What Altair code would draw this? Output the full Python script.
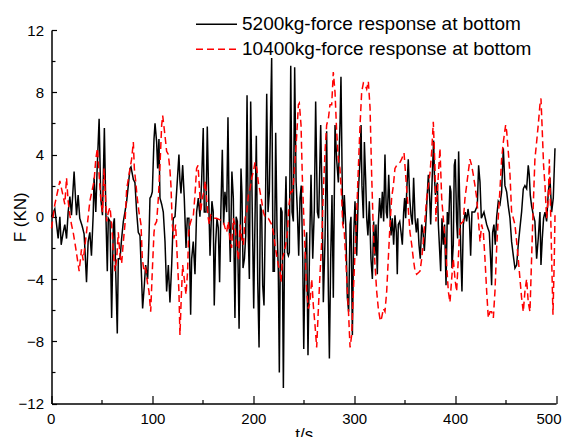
import altair as alt
import pandas as pd

SERIES = ["5200kg-force response at bottom", "10400kg-force response at bottom"]
COLORS = ["#000000", "#ff0000"]
DASHES = [[1, 0], [7, 4]]

t_black = [0, 3.3, 6.6, 8.3, 9.6, 11.6, 13.2, 14.9, 16.5, 18.2, 19.8, 22.4, 23.8, 24.8, 26.4, 28, 30.4, 32.3, 33.3, 34.7,
           36.3, 38, 39.6, 41.3, 42.2, 43.9, 45.2, 47.2, 48.8, 50.5, 52.4, 54, 55.3, 56.3, 58, 59.6, 61.3, 62.3, 65.2, 66.2,
           67.9, 69.5, 71.2, 72.8, 74.5, 76.1, 77.8, 78.8, 81.1, 82.7, 84.4, 86, 87.7, 89.3, 90.3, 92, 93.3, 95.3, 96.6, 97.6,
           98.6, 99.9, 101.6, 102.6, 104.2, 105.2, 106.5, 107.5, 109.2, 110.8, 112.5, 114.1, 115.8, 117.4, 119.1, 120.7, 122.4, 124, 126.3, 127.3,
           128.3, 130, 131.6, 133.3, 134.6, 136.2, 137.9, 138.9, 140.5, 142.2, 143.8, 145.5, 147.1, 148.8, 150.4, 151.4, 153.1, 154.4, 156.1, 157.1,
           159, 160.3, 161.3, 162.6, 164, 165.3, 166.6, 167.9, 169.3, 170.6, 171.9, 173.6, 174.9, 176.2, 177.2, 178.8, 180.2, 181.8, 183, 184.2,
           185.9, 187.8, 188.8, 189.8, 191.2, 192.5, 193.8, 195.1, 196.1, 197.4, 198.7, 200.4, 201.7, 203, 204.4, 205.7, 207, 208.3, 209.3, 210.6,
           212, 213.3, 214.6, 215.9, 217.3, 218.2, 219.6, 220.9, 222.2, 223.5, 224.8, 225.8, 227.2, 228.5, 229.8, 231.1, 232.4, 233.8, 234.8, 235.7,
           237.1, 238.4, 239.7, 241, 242.4, 243.7, 245, 246.3, 247.5, 249, 250, 251.3, 252.9, 254.2, 255.6, 257.2, 258.9, 260.5, 261.8, 263.5,
           264.8, 266.8, 268.4, 269.4, 271.1, 272.7, 274.4, 275.4, 276.7, 278, 279.3, 281, 282.6, 284.3, 285.9, 286.9, 288.3, 289.2, 290.2, 291.6,
           293.2, 294.5, 295.9, 296.8, 298.2, 299.5, 300.8, 302.5, 304.1, 305.8, 306.8, 307.7, 309.1, 310.1, 311.4, 312.4, 313.6, 315, 316.6, 318,
           319.3, 320.6, 321.6, 322.9, 323.9, 325.2, 326.6, 327.9, 329.2, 330.5, 331.8, 332.8, 334.2, 335.5, 336.5, 337.8, 339.1, 340.4, 341.8, 342.7,
           343.7, 345.1, 346.4, 347.7, 349, 350, 351, 352.3, 353.6, 355, 356.3, 357.6, 358.9, 360.3, 361.6, 362.9, 364.2, 365.5, 366.9, 368.2,
           369.5, 370.8, 372.2, 373.5, 374.8, 375.8, 377.3, 378.7, 379.6, 380.5, 382.4, 383.4, 384.4, 385.7, 387, 388.3, 389.6, 391, 392.3, 393.6,
           394.9, 395.9, 396.9, 398.2, 399.2, 400.2, 401.5, 402.5, 403.5, 404.8, 405.8, 406.8, 408.1, 410.1, 411.4, 412.8, 414.1, 415.4, 416.7, 419.4,
           422, 423.3, 424.7, 426, 428.6, 431.3, 433.9, 435.2, 436.2, 437.2, 438.5, 439.8, 441.2, 442.8, 444.5, 446.1, 447.8, 449.4, 451.1, 452.7,
           454.4, 456, 457.7, 459.3, 461, 462.6, 464.3, 465.9, 467.6, 469.2, 470.9, 472.5, 473.5, 474.5, 475.8, 477.5, 479.1, 480.8, 482.4, 484.1,
           485.1, 486.4, 487.7, 489.1, 490.7, 492.4, 494, 495.7, 497.3, 499]
f_black = [0, 0.5, -1.4, 0, -1.8, -1.0, -0.5, -1.4, 0.3, 1.3, 0.1, 2.9, 1.2, 0.1, 1.4, -0.1, -0.6, -1.1, -2.3, -4.2,
           -1.6, -1.0, -2.5, 0.1, 2.5, 0.3, 3.0, 6.3, 1.2, 0.1, 5.7, -0.1, -3.5, -0.1, -0.3, -6.5, -0.5, -0.1, -7.5, -2.7,
           -2.7, -1.4, -0.3, 0.3, 1.0, 2.0, 3.1, 3.2, 2.4, 2.2, 0.3, -1.0, -1.2, -4.0, -5.9, -4.4, -3.1, -4.0, -1.4, 1.2,
           1.3, 1.6, 5.0, 6.0, 4.8, 3.1, 5.0, 1.2, 0.8, 0.3, -1.6, -4.8, -3.1, -5.5, -3.1, -0.1, 0.0, 1.6, 4.0, 2.3,
           1.5, 3.3, 1.2, -2.0, -0.1, -0.1, -6.3, -2.7, -1.6, -3.7, 0.3, 1.2, 0.0, 2.3, 5.7, 0.3, 0.3, 5.8, 0.3, -2.5,
           1.0, 0.3, -5.7, -1.8, -0.1, -0.7, -4.2, 0.5, 4.3, -0.5, 1.6, 0.3, 6.4, -0.5, -2.9, 2.9, 1.2, -6.5, 0.0, -0.3,
           -7.2, 3.1, 1.4, -3.3, -2.7, -1.2, 7.8, -1.4, -4.0, 7.4, 1.6, -5.9, -0.1, 5.2, -4.2, -8.4, 0.8, 0.3, -4.4, -5.7,
           0.3, 7.9, 0.3, 1.6, 7.0, 10.2, -3.5, -3.5, 5.4, -0.7, -3.5, -10.0, 0.6, 0.3, -11.0, -1.0, 2.6, -2.3, -2.5, -2.3,
           9.7, 0.3, -0.3, 9.6, 2.3, 0.3, -2.5, 1.2, 2.0, -2.7, -8.5, -2.7, -1.0, -8.9, -2.7, 2.7, -2.7, 0.5, 7.4, 0.3,
           -0.1, 5.9, 0.3, -5.5, -1.4, 5.5, -4.8, -9.1, -2.7, 1.4, -5.2, 5.9, 3.7, 2.2, 5.9, 9.0, 1.2, -0.5, 1.4, -0.5,
           -5.2, -6.1, -0.5, 0.0, -7.6, -1.2, 1.0, -2.5, 1.6, 3.7, 5.9, 2.0, -0.1, 4.8, 2.3, -0.1, -1.2, 1.0, -2.7, -4.0,
           -0.3, -2.5, -0.5, -3.7, -0.5, 1.2, -0.1, 1.6, -0.3, 4.0, 0.3, -0.1, 2.7, 0.3, -1.2, -0.1, -1.8, 0.1, -1.0, -3.7,
           -0.5, -0.3, -1.0, -1.8, 0.3, 1.2, -0.1, 2.0, 3.7, 1.2, 0.1, -0.5, 2.5, -0.1, -1.0, -0.1, -1.8, -2.7, -0.5, -1.0,
           -2.2, -0.7, 1.2, 2.7, 1.2, -0.5, 2.5, 4.9, 2.5, 1.4, 2.2, -0.5, -1.8, -3.5, -0.1, -1.8, -0.5, -4.4, 0.3, -0.5,
           2.0, 1.6, -3.3, -1.8, 3.3, 3.7, -0.3, -1.4, 4.2, 0.3, -2.7, -4.8, -0.5, 0.3, -0.3, 0.5, -0.1, -2.5, 0.3, 0.3,
           0.7, 3.3, 2.2, -0.1, 0.3, -0.5, -1.0, -2.7, -4.4, -1.0, -0.5, -1.8, 0.0, 1.0, 0.8, 1.6, 4.4, 2.0, 1.6, 0.7,
           -0.1, -1.6, -2.5, -3.3, -3.1, -1.8, -0.7, 0.3, 1.8, 2.0, 1.8, 3.3, 2.7, 1.4, 0.7, 0.1, -0.3, -2.7, -1.4, 0.3,
           -3.1, -1.4, -0.1, 0.3, -0.3, 1.6, 2.5, 0.3, 1.2, 4.4]

t_red = [0, 3.3, 8.3, 11.6, 13.2, 14.9, 16.5, 18.2, 19.8, 21.5, 24, 27.4, 29.7, 31.4, 34.7, 38, 42.2, 43.9, 45.5, 47.2,
         48.8, 50.5, 52.1, 53.3, 54.7, 56.3, 58, 59.6, 61.3, 62.9, 64.6, 66.2, 67.9, 69.5, 71.2, 72.8, 74.5, 76.1, 77.8, 79.4,
         81.1, 82.1, 83.4, 85, 86.7, 88.7, 90, 91.7, 93.3, 95, 96.6, 98.3, 99.9, 101.6, 102.6, 104.2, 105.9, 107.5, 109.2, 110.2,
         112.5, 114.1, 115.8, 117.4, 118.4, 119.7, 121.4, 123, 124.7, 126.3, 127.3, 128.6, 130, 131.6, 133.3, 134.9, 135.9, 137.2, 138.9, 140.5,
         142.2, 143.8, 145.2, 146.5, 147.8, 149.4, 151.1, 152.4, 153.7, 155.4, 156.4, 157.7, 160.3, 163.6, 167, 170.3, 171.9, 173.6, 175.2, 176.9,
         178.5, 180.2, 181.8, 183.5, 185.2, 186.9, 188.5, 190.2, 191.8, 193.5, 195.1, 196.8, 198.4, 200.1, 201.7, 203.4, 205, 206.7, 208.3, 210,
         211.6, 214.9, 218.2, 219.9, 221.5, 223.2, 224.8, 226.5, 227.5, 228.8, 230.5, 232.1, 233.8, 235.4, 237.1, 238.7, 240, 241.4, 243, 244.7,
         245.6, 247.3, 248.6, 250.3, 251.6, 252.9, 254.6, 256.2, 257.9, 259.5, 261.2, 262.8, 264.5, 266.1, 267.8, 269.4, 271.1, 272.7, 274.4, 276,
         277.7, 279.3, 281, 282.6, 284.3, 285.9, 287.6, 288.6, 290.2, 291.6, 292.6, 294.2, 295.9, 297.5, 299.2, 300.8, 302.5, 304.1, 305.8, 307.4,
         309.1, 310.7, 312.4, 314, 315.7, 317.3, 319, 320.6, 322.3, 323.9, 325.9, 327.2, 328.9, 330.5, 332.2, 333.8, 335.5, 337.1, 338.8, 340.4,
         342.1, 345.4, 347, 349.4, 350.3, 352, 353.6, 355.3, 357, 358.6, 360.3, 361.9, 365.2, 366.9, 368.5, 370.2, 371.8, 373.5, 375.1, 376.8,
         378.4, 380.1, 381, 382.4, 385, 386.7, 388.3, 390, 391.6, 393.3, 394.9, 396.6, 398.2, 399.9, 401.5, 403.2, 404.8, 408.1, 409.8, 411.4,
         413.1, 414.7, 416.4, 418, 419.7, 421.4, 423, 424.7, 426.3, 428, 429.6, 431.3, 432.9, 434.6, 436.2, 437.9, 439.5, 441.2, 442.8, 444.5,
         446.1, 447.8, 450.1, 451.1, 452.7, 454.4, 456, 457.7, 459.3, 461, 462.6, 464.3, 465.9, 467.6, 469.2, 470.9, 472.5, 474.2, 475.8, 477.5,
         479.1, 480.8, 482.4, 484.1, 485.1, 486.4, 487.7, 489.1, 490.7, 492.4, 493.4, 494.7, 495.7, 497, 498.3, 499]
f_red = [-0.75, 0.8, 2.3, 1.3, 0.8, 2.5, 1.0, 0.1, -0.5, -1.0, -2.0, -3.5, -2.1, -2.8, -1.0, 1.0, 2.3, 3.7, 4.4, 2.7,
         1.2, 0.3, 3.1, 1.5, -0.3, 0.3, 0.6, -0.5, -2.2, -3.5, -2.7, -1.0, -2.5, -3.0, -1.6, -0.5, 1.8, 2.4, 3.1, 3.7,
         4.8, 3.1, 2.3, 1.2, 0.3, -0.5, -2.7, -3.5, -3.3, -4.2, -4.8, -6.1, -3.5, -1.0, -0.5, -0.3, 1.2, 3.3, 5.9, 6.5,
         5.2, 4.2, 4.0, 3.0, 2.0, -0.5, -1.4, -0.5, -2.7, -4.8, -7.6, -5.2, -3.1, -4.0, -5.0, -3.5, -1.0, -0.5, -0.1, 0.0,
         1.4, 3.1, 3.3, 2.0, 0.3, 1.2, 1.6, 2.3, 1.2, -0.1, -0.5, 0.1, -0.1, -0.1, -0.2, -0.3, -0.7, -1.0, -0.3, -1.4,
         -2.0, -0.1, -0.5, -1.8, -2.8, -0.5, -1.4, -1.8, -0.1, 0.3, 1.4, 1.8, 2.5, 2.9, 3.5, 3.1, 2.2, 1.6, 1.0, 0.3,
         0.0, -0.1, -0.5, -1.0, -1.8, -2.5, -3.1, -3.5, -4.2, -2.7, -2.3, -1.8, -1.0, 0.8, 1.6, 1.6, 2.3, 3.7, 5.2, 7.2,
         7.3, 5.9, 2.5, -0.5, -2.7, -4.8, -5.9, -5.5, -4.0, -5.7, -7.0, -8.4, -5.9, -3.7, -1.6, 1.6, 4.2, 5.9, 6.3, 7.2,
         7.2, 9.3, 8.0, 5.5, 3.7, 3.1, 1.2, -0.5, -1.0, -2.7, -4.0, -5.9, -8.4, -7.6, -4.8, -2.3, 0.3, 3.1, 5.9, 8.0,
         8.6, 8.5, 8.2, 8.7, 7.0, 2.7, -1.0, -3.1, -4.8, -5.9, -6.7, -6.5, -5.9, -6.1, -4.8, -2.7, -0.5, 1.2, 2.0, 3.1,
         3.3, 3.5, 3.7, 4.1, 3.3, 1.8, 0.5, -1.0, -1.8, -2.7, -3.5, -3.7, -3.5, -2.7, -1.6, -0.1, 1.2, 2.0, 2.8, 4.2,
         6.1, 3.1, -0.3, 1.6, 4.4, 1.2, -0.1, -1.4, -3.1, -4.8, -5.5, -4.0, -2.7, -4.0, -4.8, -2.7, -0.5, -0.3, 1.2, 2.0,
         2.9, 3.7, 3.3, 2.7, 2.0, 1.2, -0.1, -1.6, -0.5, -1.0, -2.7, -4.8, -6.5, -6.1, -6.1, -6.5, -4.8, -2.0, 0.0, 1.8,
         3.7, 4.8, 5.9, 5.5, 4.2, 2.7, 0.3, -0.1, -0.5, -1.6, -2.7, -4.0, -5.2, -6.1, -4.8, -4.0, -5.5, -6.1, -2.7, 0.8,
         3.7, 4.8, 5.9, 7.2, 7.6, 5.5, 3.3, 2.0, -0.1, 1.2, 3.7, 0.3, -2.7, -6.3, -2.7, 0.1]

x_major = [0, 100, 200, 300, 400, 500]
x_minor = [50, 150, 250, 350, 450]
y_major = [-12, -8, -4, 0, 4, 8, 12]
y_minor = [-10, -6, -2, 2, 6, 10]

FONT = "Liberation Sans"
W, H = 504.5, 373.5

df = pd.concat([
    pd.DataFrame({"t": t_black, "F": f_black, "series": SERIES[0]}),
    pd.DataFrame({"t": t_red, "F": f_red, "series": SERIES[1]}),
], ignore_index=True)

xscale = alt.Scale(domain=[0, 500], nice=False, zero=False)
yscale = alt.Scale(domain=[-12, 12], nice=False, zero=False)

leg = alt.Legend(
    title=None, orient="none", legendX=143.5, legendY=-18,
    symbolType="stroke", symbolSize=1681, symbolStrokeWidth=1.5,
    labelFontSize=19, labelFont=FONT, labelColor="black", labelOffset=4,
    clipHeight=24.5, rowPadding=0, padding=0, labelLimit=400,
)

lines = alt.Chart(df).mark_line(strokeWidth=1.5).encode(
    x=alt.X("t:Q", scale=xscale, axis=alt.Axis(
        values=x_major, format="d", tickSize=0, labelPadding=8, labelFontSize=15, labelFont=FONT,
        labelColor="black", labelFlush=True, labelFlushOffset=5, labelOverlap=False,
        domainColor="black", domainWidth=1.5,
        grid=False, title="t/s", titleFont=FONT, titleFontSize=17, titleFontWeight="normal",
        titleColor="black", titleY=36, titleBaseline="alphabetic")),
    y=alt.Y("F:Q", scale=yscale, axis=alt.Axis(
        values=y_major, format="d", tickSize=0, labelPadding=8, labelFontSize=15, labelFont=FONT,
        labelColor="black", labelFlush=False, labelOverlap=False, domainColor="black", domainWidth=1.5,
        grid=False, title="F (KN)", titleFont=FONT, titleFontSize=17, titleFontWeight="normal",
        titleColor="black", titleX=-26.5, titleY=H / 2, titleAlign="center", titleBaseline="alphabetic")),
    color=alt.Color("series:N", scale=alt.Scale(domain=SERIES, range=COLORS), legend=leg),
    strokeDash=alt.StrokeDash("series:N", scale=alt.Scale(domain=SERIES, range=DASHES), legend=leg),
)


def tick_layer(xv, yv, xsize, ysize):
    return alt.Chart(df).mark_point(opacity=0).encode(
        x=alt.X("t:Q", axis=alt.Axis(orient="top", offset=-H, values=xv, tickSize=xsize, tickColor="black",
                                     tickWidth=1.2, labels=False, domain=False, grid=False, title="")),
        y=alt.Y("F:Q", axis=alt.Axis(orient="right", offset=-W, values=yv, tickSize=ysize, tickColor="black",
                                     tickWidth=1.2, labels=False, domain=False, grid=False, title="")),
    )


chart = alt.layer(
    lines,
    tick_layer(x_major, y_major, 8, 5),
    tick_layer(x_minor, y_minor, 4, 3.5),
).resolve_axis(x="independent", y="independent").properties(
    width=W, height=H,
    autosize=alt.AutoSizeParams(type="none"),
    padding={"left": 43.5, "top": 22, "right": 6, "bottom": 33.5},
).configure_view(stroke="transparent")

chart.save("out.html", embed_options={"renderer": "svg", "actions": False})
